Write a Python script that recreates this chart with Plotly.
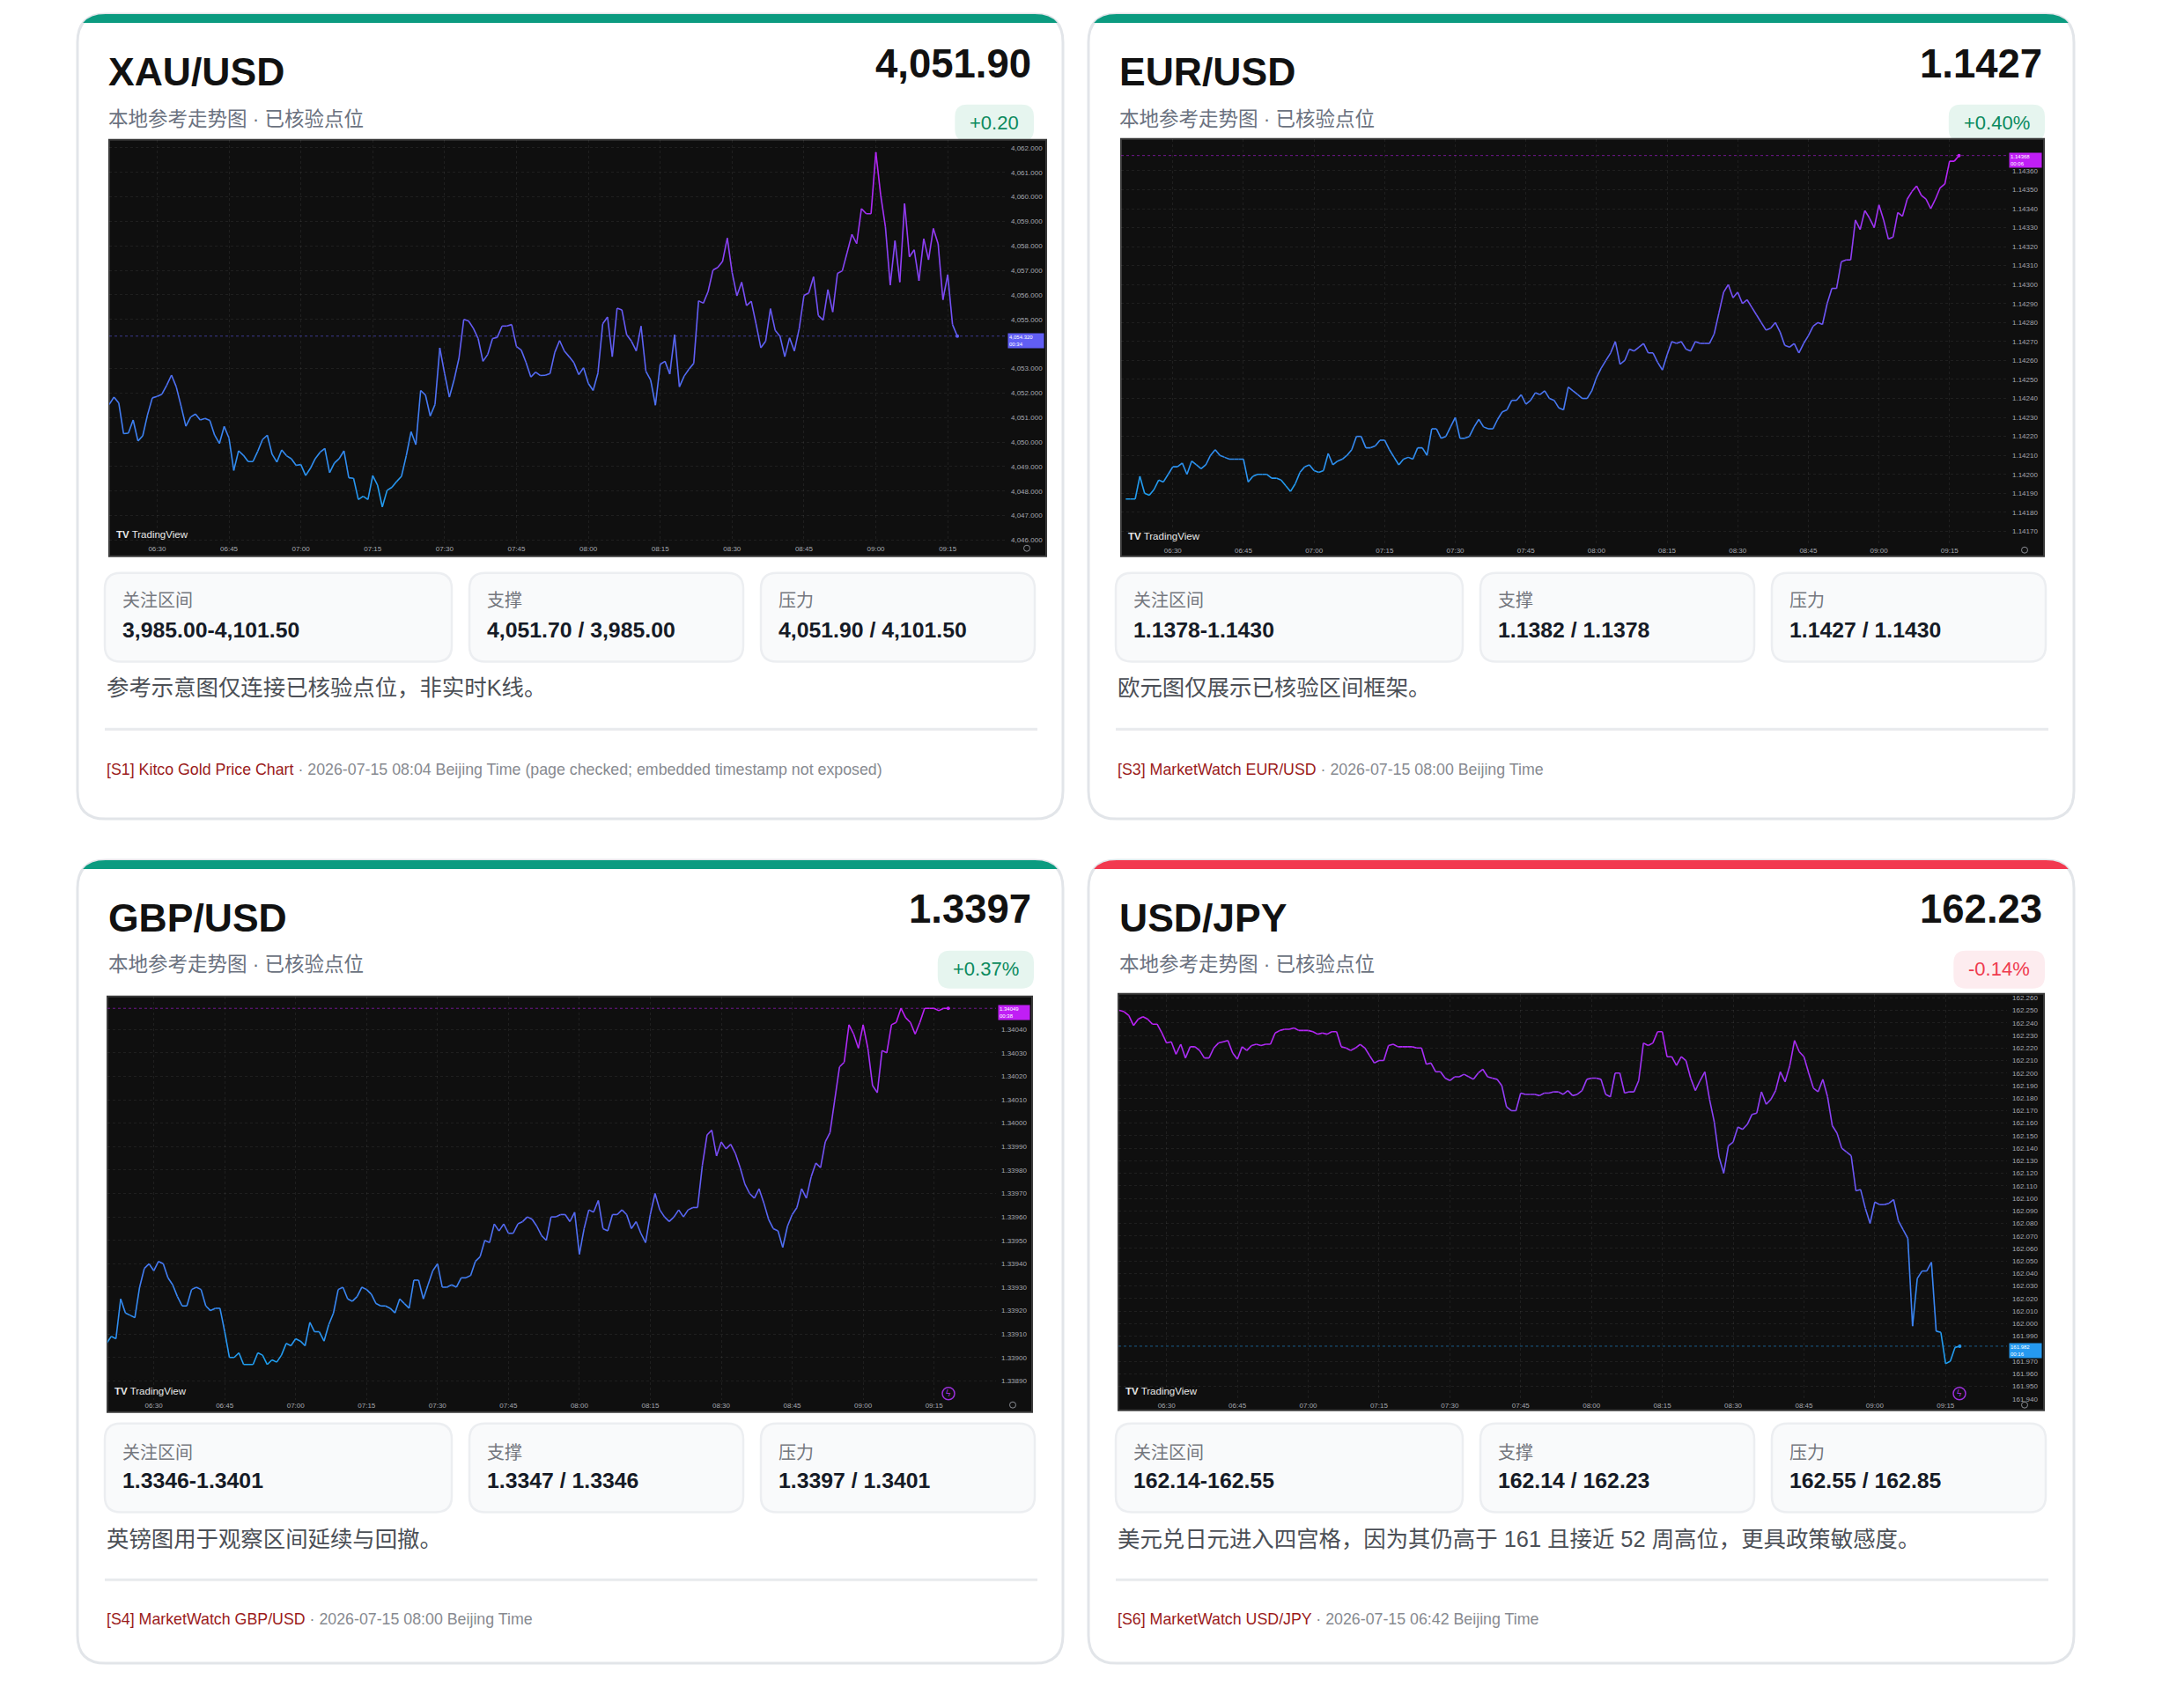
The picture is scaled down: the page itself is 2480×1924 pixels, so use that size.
import math

import pandas as pd
import plotly.graph_objects as go

W, H = 2480, 1924
OFF = 8  # the page body margin pushes the figure 8 px right and down
FONT = "Liberation Sans, Arial, Noto Sans CJK SC, sans-serif"

# one-minute closes
XAU_VALUES = [
    4051.53, 4051.83, 4051.59, 4050.34, 4050.36, 4050.90, 4050.04, 4050.25, 4051.11, 4051.80,
    4051.86, 4051.95, 4052.31, 4052.73, 4052.25, 4051.47, 4050.64, 4051.02, 4051.14, 4050.90,
    4050.96, 4050.88, 4050.28, 4049.94, 4050.64, 4050.16, 4048.84, 4049.64, 4049.46, 4049.20,
    4049.20, 4049.62, 4050.10, 4050.28, 4049.50, 4049.18, 4049.68, 4049.44, 4049.32, 4049.05,
    4049.08, 4048.63, 4048.93, 4049.32, 4049.58, 4049.74, 4048.75, 4049.14, 4049.32, 4049.64,
    4048.54, 4048.52, 4047.65, 4047.79, 4047.65, 4048.63, 4048.24, 4047.35, 4048.03, 4048.15,
    4048.39, 4048.60, 4049.44, 4050.42, 4049.89, 4052.10, 4051.92, 4051.06, 4051.53, 4053.84,
    4052.79, 4051.83, 4052.55, 4053.42, 4055.00, 4054.94, 4054.64, 4054.22, 4053.29, 4053.57,
    4054.22, 4054.27, 4054.73, 4054.73, 4054.79, 4053.89, 4053.75, 4053.24, 4052.65, 4052.85,
    4052.71, 4052.72, 4052.79, 4053.66, 4054.14, 4053.71, 4053.48, 4053.23, 4052.75, 4053.03,
    4052.39, 4052.10, 4052.81, 4054.82, 4055.10, 4053.48, 4055.46, 4055.39, 4054.37, 4054.11,
    4053.71, 4054.73, 4052.89, 4052.53, 4051.50, 4053.17, 4053.29, 4052.77, 4054.38, 4052.25,
    4052.69, 4052.97, 4053.21, 4055.76, 4055.66, 4056.14, 4057.01, 4057.12, 4057.36, 4058.32,
    4056.92, 4055.96, 4056.52, 4055.56, 4055.74, 4054.82, 4053.84, 4054.11, 4055.44, 4054.55,
    4054.31, 4053.48, 4054.25, 4053.71, 4054.62, 4055.98, 4056.08, 4056.74, 4055.16, 4054.97,
    4056.22, 4055.30, 4056.88, 4056.98, 4057.72, 4058.47, 4058.09, 4059.52, 4059.31, 4059.31,
    4061.82, 4060.09, 4058.77, 4056.40, 4058.21, 4056.52, 4059.73, 4057.55, 4057.84, 4056.58,
    4058.29, 4057.43, 4058.71, 4058.08, 4055.80, 4056.83, 4054.79, 4054.32,
]
EUR_VALUES = [
    1.14187, 1.14187, 1.14187, 1.14199, 1.14190, 1.14189, 1.14192, 1.14197, 1.14196, 1.14200,
    1.14204, 1.14204, 1.14206, 1.14200, 1.14207, 1.14205, 1.14203, 1.14205, 1.14210, 1.14213,
    1.14210, 1.14209, 1.14208, 1.14208, 1.14208, 1.14208, 1.14196, 1.14199, 1.14200, 1.14200,
    1.14200, 1.14198, 1.14198, 1.14197, 1.14194, 1.14191, 1.14195, 1.14201, 1.14204, 1.14205,
    1.14202, 1.14201, 1.14202, 1.14211, 1.14205, 1.14207, 1.14208, 1.14210, 1.14213, 1.14220,
    1.14220, 1.14214, 1.14214, 1.14215, 1.14218, 1.14218, 1.14213, 1.14209, 1.14205, 1.14208,
    1.14209, 1.14208, 1.14214, 1.14214, 1.14210, 1.14224, 1.14224, 1.14219, 1.14220, 1.14225,
    1.14230, 1.14219, 1.14219, 1.14220, 1.14225, 1.14229, 1.14225, 1.14224, 1.14224, 1.14229,
    1.14233, 1.14234, 1.14239, 1.14239, 1.14242, 1.14237, 1.14239, 1.14243, 1.14242, 1.14244,
    1.14240, 1.14239, 1.14235, 1.14234, 1.14246, 1.14244, 1.14242, 1.14240, 1.14240, 1.14244,
    1.14251, 1.14256, 1.14260, 1.14264, 1.14270, 1.14258, 1.14260, 1.14266, 1.14265, 1.14267,
    1.14269, 1.14264, 1.14264, 1.14259, 1.14255, 1.14263, 1.14270, 1.14269, 1.14270, 1.14266,
    1.14265, 1.14270, 1.14269, 1.14269, 1.14269, 1.14274, 1.14285, 1.14296, 1.14300, 1.14293,
    1.14296, 1.14290, 1.14292, 1.14288, 1.14284, 1.14280, 1.14276, 1.14277, 1.14280, 1.14275,
    1.14268, 1.14267, 1.14269, 1.14264, 1.14269, 1.14273, 1.14278, 1.14280, 1.14279, 1.14290,
    1.14298, 1.14298, 1.14312, 1.14313, 1.14313, 1.14334, 1.14329, 1.14339, 1.14335, 1.14330,
    1.14342, 1.14334, 1.14324, 1.14325, 1.14338, 1.14336, 1.14345, 1.14349, 1.14352, 1.14347,
    1.14345, 1.14340, 1.14345, 1.14351, 1.14353, 1.14365, 1.14365, 1.14368,
]
GBP_VALUES = [
    1.33906, 1.33909, 1.33908, 1.33925, 1.33919, 1.33918, 1.33917, 1.33930, 1.33938, 1.33940,
    1.33937, 1.33941, 1.33940, 1.33934, 1.33931, 1.33926, 1.33922, 1.33922, 1.33929, 1.33930,
    1.33929, 1.33922, 1.33920, 1.33921, 1.33921, 1.33911, 1.33900, 1.33900, 1.33902, 1.33897,
    1.33897, 1.33897, 1.33902, 1.33901, 1.33897, 1.33899, 1.33898, 1.33901, 1.33906, 1.33905,
    1.33908, 1.33907, 1.33905, 1.33915, 1.33911, 1.33911, 1.33907, 1.33914, 1.33919, 1.33929,
    1.33930, 1.33925, 1.33924, 1.33926, 1.33930, 1.33929, 1.33927, 1.33923, 1.33922, 1.33922,
    1.33921, 1.33919, 1.33925, 1.33923, 1.33921, 1.33933, 1.33933, 1.33925, 1.33931, 1.33937,
    1.33940, 1.33930, 1.33930, 1.33931, 1.33930, 1.33934, 1.33934, 1.33935, 1.33941, 1.33943,
    1.33950, 1.33949, 1.33957, 1.33954, 1.33957, 1.33953, 1.33953, 1.33957, 1.33958, 1.33960,
    1.33959, 1.33956, 1.33952, 1.33950, 1.33960, 1.33960, 1.33961, 1.33961, 1.33958, 1.33962,
    1.33944, 1.33955, 1.33963, 1.33962, 1.33967, 1.33955, 1.33954, 1.33961, 1.33961, 1.33963,
    1.33961, 1.33955, 1.33958, 1.33953, 1.33949, 1.33961, 1.33970, 1.33963, 1.33960, 1.33958,
    1.33960, 1.33963, 1.33960, 1.33963, 1.33964, 1.33964, 1.33982, 1.33995, 1.33997, 1.33986,
    1.33992, 1.33989, 1.33991, 1.33987, 1.33981, 1.33974, 1.33970, 1.33968, 1.33972, 1.33966,
    1.33959, 1.33955, 1.33954, 1.33947, 1.33956, 1.33961, 1.33964, 1.33972, 1.33968, 1.33977,
    1.33983, 1.33981, 1.33992, 1.33996, 1.34010, 1.34024, 1.34026, 1.34042, 1.34038, 1.34032,
    1.34042, 1.34032, 1.34016, 1.34013, 1.34031, 1.34030, 1.34042, 1.34043, 1.34049, 1.34045,
    1.34043, 1.34038, 1.34043, 1.34049, 1.34049, 1.34049, 1.34048, 1.34049, 1.34049,
]
JPY_VALUES = [
    162.250, 162.249, 162.246, 162.238, 162.243, 162.245, 162.243, 162.239, 162.239, 162.232,
    162.224, 162.225, 162.215, 162.223, 162.212, 162.221, 162.221, 162.218, 162.212, 162.212,
    162.220, 162.224, 162.225, 162.226, 162.216, 162.211, 162.221, 162.218, 162.222, 162.223,
    162.222, 162.223, 162.223, 162.232, 162.234, 162.235, 162.235, 162.236, 162.234, 162.234,
    162.234, 162.233, 162.231, 162.232, 162.231, 162.233, 162.233, 162.221, 162.220, 162.218,
    162.220, 162.223, 162.220, 162.214, 162.208, 162.210, 162.210, 162.222, 162.223, 162.221,
    162.221, 162.221, 162.221, 162.220, 162.220, 162.207, 162.208, 162.201, 162.201, 162.196,
    162.194, 162.197, 162.197, 162.199, 162.197, 162.195, 162.200, 162.203, 162.197, 162.196,
    162.195, 162.190, 162.173, 162.170, 162.170, 162.184, 162.183, 162.183, 162.183, 162.182,
    162.184, 162.184, 162.185, 162.185, 162.183, 162.186, 162.182, 162.183, 162.186, 162.195,
    162.196, 162.196, 162.195, 162.183, 162.181, 162.200, 162.200, 162.184, 162.185, 162.185,
    162.194, 162.224, 162.222, 162.224, 162.233, 162.233, 162.213, 162.213, 162.206, 162.213,
    162.210, 162.196, 162.186, 162.194, 162.201, 162.179, 162.161, 162.133, 162.120, 162.142,
    162.145, 162.157, 162.155, 162.159, 162.167, 162.168, 162.185, 162.175, 162.179, 162.186,
    162.201, 162.193, 162.206, 162.226, 162.217, 162.213, 162.200, 162.188, 162.185, 162.195,
    162.181, 162.158, 162.152, 162.140, 162.137, 162.134, 162.106, 162.107, 162.092, 162.080,
    162.097, 162.095, 162.095, 162.096, 162.099, 162.082, 162.075, 162.068, 161.998, 162.036,
    162.042, 162.042, 162.049, 161.994, 161.993, 161.968, 161.970, 161.981, 161.982,
]
SERIES = [XAU_VALUES, EUR_VALUES, GBP_VALUES, JPY_VALUES]
LAST_BAR = ["2026-07-15 09:17", "2026-07-15 09:17", "2026-07-15 09:18", "2026-07-15 09:18"]
COUNTDOWN = ["00:34", "00:06", "00:38", "00:16"]

PAIRS = ["XAU/USD", "EUR/USD", "GBP/USD", "USD/JPY"]
PRICES = ["4,051.90", "1.1427", "1.3397", "162.23"]
CHANGES = ["+0.20", "+0.40%", "+0.37%", "-0.14%"]
SUBTITLE = "本地参考走势图 · 已核验点位"
STAT_LABELS = ["关注区间", "支撑", "压力"]
STAT_VALUES = [
    ["3,985.00-4,101.50", "4,051.70 / 3,985.00", "4,051.90 / 4,101.50"],
    ["1.1378-1.1430", "1.1382 / 1.1378", "1.1427 / 1.1430"],
    ["1.3346-1.3401", "1.3347 / 1.3346", "1.3397 / 1.3401"],
    ["162.14-162.55", "162.14 / 162.23", "162.55 / 162.85"],
]
NOTES = [
    "参考示意图仅连接已核验点位，非实时K线。",
    "欧元图仅展示已核验区间框架。",
    "英镑图用于观察区间延续与回撤。",
    "美元兑日元进入四宫格，因为其仍高于 161 且接近 52 周高位，更具政策敏感度。",
]
SOURCES = [
    "[S1] Kitco Gold Price Chart",
    "[S3] MarketWatch EUR/USD",
    "[S4] MarketWatch GBP/USD",
    "[S6] MarketWatch USD/JPY",
]
SOURCE_TIMES = [
    "2026-07-15 08:04 Beijing Time (page checked; embedded timestamp not exposed)",
    "2026-07-15 08:00 Beijing Time",
    "2026-07-15 08:00 Beijing Time",
    "2026-07-15 06:42 Beijing Time",
]

# ---- page geometry (pixels) ----
CARDS = [(88, 16, 1207, 932), (1236, 16, 2355, 932), (88, 979, 1207, 1893), (1236, 979, 2355, 1893)]
ROWS = [
    dict(title=82, price=73, sub=136, badge=(119, 161), btxt=140, box=(652, 753), label=683, value=717,
         note=783, rule=830, src=876),
    dict(title=1045, price=1035, sub=1098, badge=(1082, 1125), btxt=1103, box=(1620, 1721), label=1653,
         value=1685, note=1752, rule=1798, src=1843),
]
# image box, plot box, time range, price range, tick step, tick format
CHARTS = [
    dict(img=(124, 159, 1188, 633), plot=(124, 159, 1142, 618),
         xr=("2026-07-15 06:20:00", "2026-07-15 09:27:06"), yr=(4045.88, 4062.33), dt=1, fmt=",.3f"),
    dict(img=(1273, 158, 2321, 633), plot=(1273, 158, 2279, 620),
         xr=("2026-07-15 06:19:00", "2026-07-15 09:27:12"), yr=(1.141629, 1.143768), dt=0.0001, fmt=".5f"),
    dict(img=(122, 1134, 1172, 1607), plot=(122, 1134, 1131, 1593),
         xr=("2026-07-15 06:20:12", "2026-07-15 09:28:06"), yr=(1.338820, 1.340541), dt=0.0001, fmt=".5f"),
    dict(img=(1270, 1131, 2321, 1605), plot=(1270, 1131, 2279, 1593),
         xr=("2026-07-15 06:19:48", "2026-07-15 09:28:00"), yr=(161.9393, 162.2633), dt=0.01, fmt=".3f"),
]
UP, DOWN = "#0b9b80", "#f2394f"
STOPS = [(0.0, (30, 160, 240)), (0.5, (100, 92, 245)), (1.0, (192, 30, 245))]
NB = 32


def X(x):
    return (x - OFF) / W


def Y(y):
    return 1 - (y - OFF) / H


def P(x, y):
    return f"{X(x):.6f},{Y(y):.6f}"


def rrect(x0, y0, x1, y1, r):
    return (f"M{P(x0 + r, y0)} L{P(x1 - r, y0)} Q{P(x1, y0)} {P(x1, y0 + r)} "
            f"L{P(x1, y1 - r)} Q{P(x1, y1)} {P(x1 - r, y1)} L{P(x0 + r, y1)} "
            f"Q{P(x0, y1)} {P(x0, y1 - r)} L{P(x0, y0 + r)} Q{P(x0, y0)} {P(x0 + r, y0)} Z")


def top_band(x0, y0, x1, b, r):
    t = 1 - math.sqrt(b / r)
    return (f"M{P(x0 + r * t * t, y0 + b)} Q{P(x0 + r * t, y0)} {P(x0 + r, y0)} "
            f"L{P(x1 - r, y0)} Q{P(x1 - r * t, y0)} {P(x1 - r * t * t, y0 + b)} Z")


def gradient(t):
    for (a, ca), (b, cb) in zip(STOPS, STOPS[1:]):
        if t <= b:
            k = (t - a) / (b - a)
            c = [round(ca[j] + (cb[j] - ca[j]) * k) for j in range(3)]
            return f"rgb({c[0]},{c[1]},{c[2]})"
    return "rgb(%d,%d,%d)" % STOPS[-1][1]


def text_w(s, size):
    widths = {".": 0.278, ",": 0.278, "+": 0.584, "-": 0.333, "%": 0.889}
    return sum(widths.get(ch, 0.556) for ch in s) * size


fig = go.Figure()
shapes, annos = [], []


def label(x, y, text, size, color, xanchor="left", **kw):
    annos.append(dict(x=X(x), y=Y(y), xref="paper", yref="paper", text=text, showarrow=False,
                      xanchor=xanchor, yanchor="middle", font=dict(family=FONT, size=size, color=color), **kw))


for i, (cx0, cy0, cx1, cy1) in enumerate(CARDS):
    row = ROWS[i // 2]
    up = not CHANGES[i].startswith("-")
    accent = UP if up else DOWN
    shapes.append(dict(type="path", path=rrect(cx0, cy0, cx1, cy1, 32), xref="paper", yref="paper",
                       fillcolor="white", line=dict(color="#e2e5e9", width=3), layer="below"))
    shapes.append(dict(type="path", path=top_band(cx0, cy0, cx1, 10, 32), xref="paper", yref="paper",
                       fillcolor=accent, line=dict(width=0), layer="below"))

    label(cx0 + 33, row["title"], f"<b>{PAIRS[i]}</b>", 44.5, "#111111")
    label(cx0 + 1085, row["price"], f"<b>{PRICES[i]}</b>", 45.5, "#111111", xanchor="right")
    label(cx0 + 33, row["sub"], SUBTITLE, 22.5, "#6b7280")

    bw = text_w(CHANGES[i], 22) + 34
    bx1 = cx0 + 1086
    shapes.append(dict(type="path", path=rrect(bx1 - bw, row["badge"][0], bx1, row["badge"][1], 14),
                       xref="paper", yref="paper", fillcolor="#e6f5ef" if up else "#fdecef",
                       line=dict(width=0), layer="below"))
    label(bx1 - bw / 2, row["btxt"], CHANGES[i], 22, "#0b8a5e" if up else "#ef3a4e", xanchor="center")

    # stat boxes
    bx = [(cx0 + 31, cx0 + 425), (cx0 + 445, cx0 + 756), (cx0 + 776, cx0 + 1087)]
    for j, (a, b) in enumerate(bx):
        shapes.append(dict(type="path", path=rrect(a, row["box"][0], b, row["box"][1], 18), xref="paper",
                           yref="paper", fillcolor="#f9fafb", line=dict(color="#eceef1", width=2.5), layer="below"))
        label(a + 18, row["label"], STAT_LABELS[j], 20, "#74777e")
        label(a + 18, row["value"], f"<b>{STAT_VALUES[i][j]}</b>", 24.8, "#161b26")

    label(cx0 + 31, row["note"], NOTES[i], 25.4, "#4b4f56")
    shapes.append(dict(type="line", x0=X(cx0 + 31), x1=X(cx0 + 1090), y0=Y(row["rule"]), y1=Y(row["rule"]),
                       xref="paper", yref="paper", line=dict(color="#e8eaed", width=3), layer="below"))
    label(cx0 + 31, row["src"], f"<span style='color:#9b1b1b'>{SOURCES[i]}</span> · {SOURCE_TIMES[i]}",
          17.8, "#878a90")

layout_axes = {}
for i, ch in enumerate(CHARTS):
    s = "" if i == 0 else str(i + 1)
    ix0, iy0, ix1, iy1 = ch["img"]
    px0, py0, px1, py1 = ch["plot"]
    vals = SERIES[i]
    shapes.append(dict(type="rect", x0=X(ix0), x1=X(ix1), y0=Y(iy1), y1=Y(iy0), xref="paper", yref="paper",
                       fillcolor="#0f0f0f", line=dict(color="#3a3a3a", width=2), layer="below"))

    times = pd.date_range(end=LAST_BAR[i], periods=len(vals), freq="min")
    lo, hi = min(vals), max(vals)
    bins = {}
    for k in range(len(vals) - 1):
        t = ((vals[k] + vals[k + 1]) / 2 - lo) / (hi - lo)
        b = round(t * (NB - 1))
        xs, ys = bins.setdefault(b, ([], []))
        xs += [times[k], times[k + 1], None]
        ys += [vals[k], vals[k + 1], None]
    for b in sorted(bins):
        xs, ys = bins[b]
        fig.add_trace(go.Scatter(x=xs, y=ys, mode="lines", line=dict(color=gradient(b / (NB - 1)), width=1.6),
                                 xaxis="x" + s, yaxis="y" + s, hoverinfo="skip", showlegend=False))
    tag_color = gradient((vals[-1] - lo) / (hi - lo))
    fig.add_trace(go.Scatter(x=[times[-1]], y=[vals[-1]], mode="markers",
                             marker=dict(color=tag_color, size=4), xaxis="x" + s, yaxis="y" + s,
                             hoverinfo="skip", showlegend=False))

    # price-scale ticks, leaving out the ones hidden behind the last-price tag
    y0r, y1r = ch["yr"]
    per_px = (y1r - y0r) / (py1 - py0)
    first = math.ceil(y0r / ch["dt"] - 1e-6)
    last = math.floor(y1r / ch["dt"] + 1e-6)
    tickvals = [round(k * ch["dt"], 6) for k in range(first, last + 1)]
    tickvals = [v for v in tickvals if abs(v - vals[-1]) / per_px > 11]

    tickfont = dict(family="Liberation Sans, Arial", size=8, color="#a5a8b0")
    layout_axes["xaxis" + s] = dict(
        domain=[X(px0), X(px1)], anchor="y" + s, type="date", range=list(ch["xr"]),
        tick0="2026-07-15 06:30", dtick=900000, tickformat="%H:%M", tickfont=tickfont, ticks="",
        showgrid=True, gridcolor="rgba(255,255,255,0.07)", griddash="dot", gridwidth=1,
        zeroline=False, showline=False, fixedrange=True)
    layout_axes["yaxis" + s] = dict(
        domain=[Y(py1), Y(py0)], anchor="x" + s, side="right", range=[y0r, y1r],
        tickmode="array", tickvals=tickvals, tickformat=ch["fmt"], tickfont=tickfont, ticks="",
        ticklabelstandoff=5, showgrid=True, gridcolor="rgba(255,255,255,0.07)", griddash="dot",
        gridwidth=1, zeroline=False, showline=False, fixedrange=True)

    # last-price guide and tag
    shapes.append(dict(type="line", xref=f"x{s} domain", yref="y" + s, x0=0, x1=1, y0=vals[-1], y1=vals[-1],
                       opacity=0.55, line=dict(color=tag_color, width=1, dash="dot")))
    annos.append(dict(xref="paper", yref="y" + s, x=X(px1 + 2), y=vals[-1], yshift=4, xanchor="left",
                      yanchor="top", showarrow=False, align="left", bgcolor=tag_color, borderpad=1,
                      width=ix1 - px1 - 8,
                      text=f"{format(vals[-1], ch['fmt'])}<br>{COUNTDOWN[i]}",
                      font=dict(family="Liberation Sans, Arial", size=6, color="white")))
    # TradingView mark
    label(px0 + 6, py1 - 10, "<b>TV</b> TradingView", 11.5, "#e8e8e8")
    # settings glyph at the end of the time scale
    gx, gy = ix1 - 22, py1 + 6
    shapes.append(dict(type="circle", xref="paper", yref="paper", x0=X(gx - 3.5), x1=X(gx + 3.5),
                       y0=Y(gy + 3.5), y1=Y(gy - 3.5), line=dict(color="#8a8d94", width=1)))
    if i >= 2:
        lx, ly = px1 - 54, py1 - 7
        shapes.append(dict(type="circle", xref="paper", yref="paper", x0=X(lx - 7), x1=X(lx + 7),
                           y0=Y(ly + 7), y1=Y(ly - 7), line=dict(color="#9b30d9", width=1.5)))
        label(lx, ly, "ϟ", 10, "#9b30d9", xanchor="center")

fig.update_layout(
    width=W, height=H, margin=dict(l=0, r=0, t=0, b=0),
    paper_bgcolor="white", plot_bgcolor="rgba(0,0,0,0)", showlegend=False,
    shapes=shapes, annotations=annos, **layout_axes,
)
fig.write_html("out.html")
